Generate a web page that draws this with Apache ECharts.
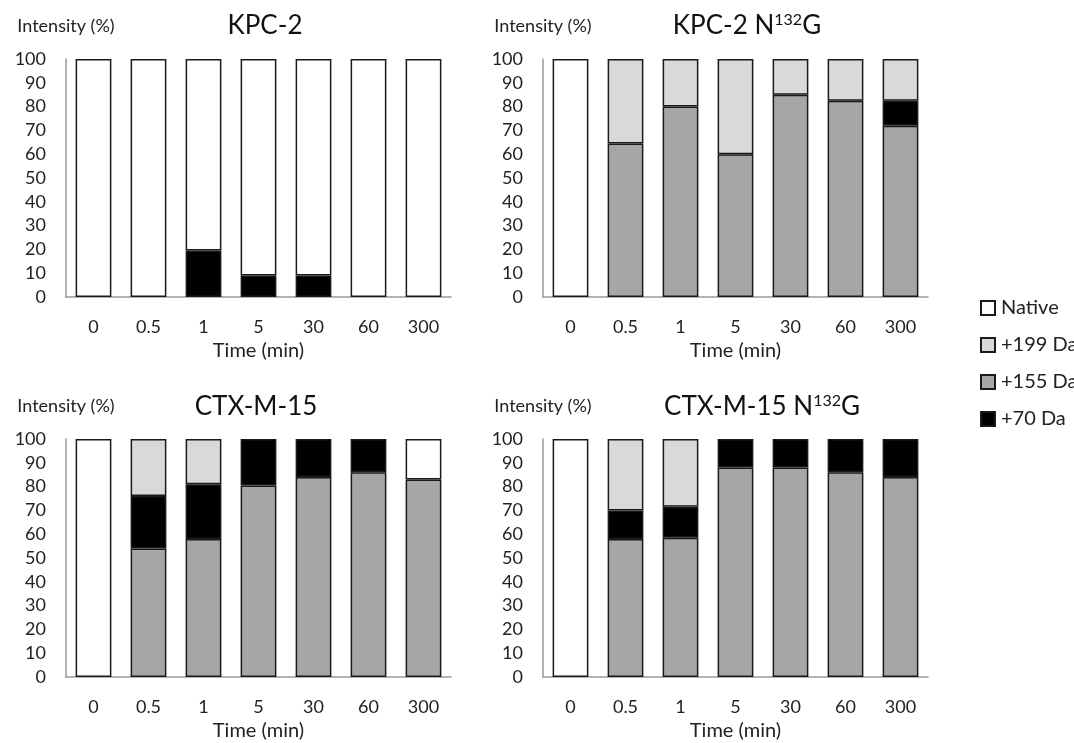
<!DOCTYPE html>
<html>
<head>
<meta charset="utf-8">
<script src="https://cdn.jsdelivr.net/npm/echarts@6/dist/echarts.min.js"></script>
<style>
html,body{margin:0;padding:0;background:#fff;}
#main{width:1074px;height:743px;}
</style>
</head>
<body>
<div id="main"></div>
<script>
var times = ['0', '0.5', '1', '5', '30', '60', '300'];
var yTicks = [0, 10, 20, 30, 40, 50, 60, 70, 80, 90, 100];
var seriesNames = ['Native', '+199 Da', '+155 Da', '+70 Da'];

// KPC-2
var kpc_native = [100, 100, 80.5, 91, 91, 100, 100];
var kpc_199 = [0, 0, 0, 0, 0, 0, 0];
var kpc_155 = [0, 0, 0, 0, 0, 0, 0];
var kpc_70 = [0, 0, 19.5, 9, 9, 0, 0];
// KPC-2 N132G
var kpcN_native = [100, 0, 0, 0, 0, 0, 0];
var kpcN_199 = [0, 35.5, 20, 40, 15, 17.5, 17.5];
var kpcN_155 = [0, 64.5, 80, 60, 85, 82.5, 72];
var kpcN_70 = [0, 0, 0, 0, 0, 0, 10.5];
// CTX-M-15
var ctx_native = [100, 0, 0, 0, 0, 0, 17];
var ctx_199 = [0, 24, 19, 0, 0, 0, 0];
var ctx_155 = [0, 54, 58, 80.5, 84, 86, 83];
var ctx_70 = [0, 22, 23, 19.5, 16, 14, 0];
// CTX-M-15 N132G
var ctxN_native = [100, 0, 0, 0, 0, 0, 0];
var ctxN_199 = [0, 30, 28.5, 0, 0, 0, 0];
var ctxN_155 = [0, 58, 58.5, 88, 88, 86, 84];
var ctxN_70 = [0, 12, 13, 12, 12, 14, 16];

var panels = [
    {native: kpc_native, d199: kpc_199, d155: kpc_155, d70: kpc_70},
    {native: kpcN_native, d199: kpcN_199, d155: kpcN_155, d70: kpcN_70},
    {native: ctx_native, d199: ctx_199, d155: ctx_155, d70: ctx_70},
    {native: ctxN_native, d199: ctxN_199, d155: ctxN_155, d70: ctxN_70}
];

var font = 'Lato, "Open Sans", sans-serif';
var colors = {'Native': '#ffffff', '+199 Da': '#d9d9d9', '+155 Da': '#a6a6a6', '+70 Da': '#000000'};

var grids = [
    {left: 66, top: 59, width: 385, height: 238},
    {left: 543, top: 59, width: 385, height: 238},
    {left: 66, top: 439, width: 385, height: 238},
    {left: 543, top: 439, width: 385, height: 238}
];

var xAxes = [], yAxes = [], series = [];
function clean(arr) {
    return arr.map(function (v) { return v === 0 ? '-' : v; });
}
for (var i = 0; i < 4; i++) {
    xAxes.push({
        type: 'category', gridIndex: i, data: times,
        name: 'Time (min)', nameLocation: 'middle', nameGap: 44,
        nameTextStyle: {fontFamily: font, fontSize: 20, color: '#222'},
        axisLine: {lineStyle: {color: '#9a9a9a', width: 1.5}},
        axisTick: {show: false},
        axisLabel: {fontFamily: font, fontSize: 18, color: '#222', margin: 21}
    });
    yAxes.push({
        type: 'value', gridIndex: i, min: 0, max: 100, interval: 10,
        name: 'Intensity (%)', nameLocation: 'end', nameGap: 24,
        nameTextStyle: {fontFamily: font, fontSize: 18, color: '#222'},
        axisLine: {show: true, lineStyle: {color: '#9a9a9a', width: 1.5}},
        axisTick: {show: false},
        splitLine: {show: false},
        axisLabel: {fontFamily: font, fontSize: 18, color: '#222', margin: 20,
            formatter: function (v) { return yTicks.indexOf(v) >= 0 ? String(v) : ''; }}
    });
    var p = panels[i];
    var order = [['+155 Da', p.d155], ['+70 Da', p.d70], ['+199 Da', p.d199], ['Native', p.native]];
    order.forEach(function (o) {
        series.push({
            name: o[0], type: 'bar', stack: 'p' + i,
            xAxisIndex: i, yAxisIndex: i,
            barWidth: '65%',
            data: clean(o[1]),
            itemStyle: {color: colors[o[0]], borderColor: '#1a1a1a', borderWidth: 1.5},
            emphasis: {disabled: true}
        });
    });
}

var titleRich = {
    t: {fontFamily: font, fontSize: 26, fill: '#111'},
    sup: {fontFamily: font, fontSize: 16, fill: '#111', padding: [0, 0, 12, 0]}
};
function titleText(txt, x, y) {
    return {
        type: 'text', x: x, y: y,
        style: {text: txt, textAlign: 'center', textVerticalAlign: 'middle',
            fontFamily: font, fontSize: 26, fill: '#111', rich: titleRich}
    };
}

var chart = echarts.init(document.getElementById('main'));
chart.setOption({
    animation: false,
    backgroundColor: '#fff',
    grid: grids,
    xAxis: xAxes,
    yAxis: yAxes,
    series: series,
    legend: {
        data: seriesNames,
        orient: 'vertical', left: 975, top: 293,
        itemWidth: 14, itemHeight: 14, itemGap: 17,
        icon: 'rect',
        textStyle: {fontFamily: font, fontSize: 20, color: '#222', padding: [0, 0, 0, 1]},
        selectedMode: false
    },
    graphic: [
        titleText('{t|KPC-2}', 265, 26),
        titleText('{t|KPC-2 N}{sup|132}{t|G}', 747, 26),
        titleText('{t|CTX-M-15}', 256, 407),
        titleText('{t|CTX-M-15 N}{sup|132}{t|G}', 762, 407)
    ]
});
</script>
</body>
</html>
